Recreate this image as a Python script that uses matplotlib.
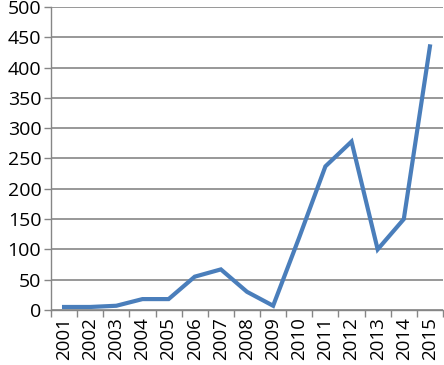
import matplotlib.pyplot as plt
from matplotlib.ticker import FixedLocator

years = [str(y) for y in range(2001, 2016)]
counts = [5, 5, 7, 18, 18, 55, 67, 30, 7, 120, 237, 278, 100, 150, 435]
y_ticks = list(range(0, 501, 50))

plt.rcParams['font.family'] = ['Open Sans', 'DejaVu Sans']

fig = plt.figure(figsize=(4.44, 3.65), dpi=100)
ax = fig.add_axes([51 / 444, 1 - 310 / 365, 392 / 444, 303 / 365])

x = list(range(len(years)))
ax.plot(x, counts, color="#4A7EBB", linewidth=3, solid_joinstyle="miter")

ax.set_xlim(-0.5, len(years) - 0.5)
ax.set_ylim(0, 500)
ax.set_yticks(y_ticks)
ax.set_xticks(x)
ax.set_xticklabels(years, rotation=90, fontsize=13.5)
ax.tick_params(axis="x", length=0, pad=5)
ax.xaxis.set_minor_locator(FixedLocator([i - 0.5 for i in range(len(years) + 1)]))
ax.tick_params(axis="x", which="minor", length=5, color="#868686", width=1)
ax.tick_params(axis="y", length=5, color="#868686", width=1, labelsize=14, pad=2)

ax.grid(axis="y", color="#868686", linewidth=1.2)
ax.set_axisbelow(True)
for side in ["top", "right"]:
    ax.spines[side].set_visible(False)
for side in ["left", "bottom"]:
    ax.spines[side].set_color("#868686")
    ax.spines[side].set_linewidth(1)

fig.savefig("out.png", dpi=100)
